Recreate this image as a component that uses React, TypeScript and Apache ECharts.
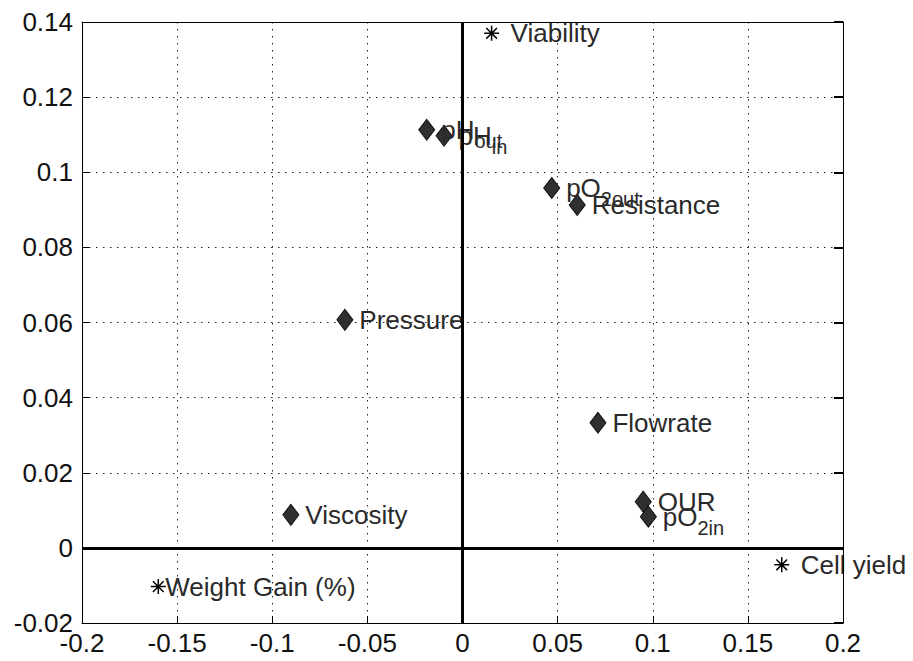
import React, { useEffect, useRef } from "react";
import * as echarts from "echarts";

// Loadings of the process variables (diamonds)
const varNames = [
  "pH_out",
  "pH_in",
  "pO2_out",
  "Resistance",
  "Pressure",
  "Flowrate",
  "OUR",
  "pO2_in",
  "Viscosity",
];
const varX = [-0.0188, -0.0097, 0.0469, 0.0603, -0.0618, 0.0712, 0.095, 0.0977, -0.0902];
const varY = [0.1113, 0.1097, 0.0958, 0.0913, 0.0607, 0.0333, 0.0123, 0.0083, 0.0088];

// Loadings of the response variables (asterisks)
const respNames = ["Viability", "Cell yield", "Weight Gain (%)"];
const respX = [0.0153, 0.1678, -0.1599];
const respY = [0.137, -0.0045, -0.0103];

// Axis ranges and tick spacing
const xRange = [-0.2, 0.2];
const xStep = 0.05;
const yRange = [-0.02, 0.14];
const yStep = 0.02;

const FONT = "'Liberation Sans', Arial, Helvetica, sans-serif";
const TEXT = "#2a2a2a";

// Names written with a subscript part, e.g. pO2_out -> pO + "2out"
function richName(name: string): string {
  const i = name.indexOf("_");
  if (i < 0) return `{a|${name}}`;
  const base = name.slice(0, i);
  const sub = name.slice(i + 1);
  if (base === "pO2") return `{a|pO}{s|2${sub}}`;
  return `{a|${base}}{s|${sub}}`;
}

const richStyles = {
  a: { fontSize: 26, fontFamily: FONT, color: TEXT, lineHeight: 30 },
  s: {
    fontSize: 20,
    fontFamily: FONT,
    color: TEXT,
    lineHeight: 20,
    padding: [16, 0, 0, 0],
    verticalAlign: "top",
  },
};

const asteriskPath = "path://M0,7L14,7M7,0L7,14M2,2L12,12M2,12L12,2";

export default function App() {
  const ref = useRef<HTMLDivElement>(null);

  useEffect(() => {
    if (!ref.current) return;
    const chart = echarts.init(ref.current, undefined, { renderer: "svg" });

    const varData = varNames.map((n, i) => ({ name: n, value: [varX[i], varY[i]] }));
    const respData = respNames.map((n, i) => {
      const item: any = { name: n, value: [respX[i], respY[i]] };
      if (n === "Weight Gain (%)") item.label = { distance: -3 };
      return item;
    });

    const tickLabel = { fontSize: 26, fontFamily: FONT, color: "#111" };
    const dotted = { show: true, lineStyle: { color: "#222", width: 1, type: [1.5, 5.5] } };

    chart.setOption({
      animation: false,
      backgroundColor: "#fff",
      grid: { left: 82, right: 70, top: 22, bottom: 38, containLabel: false },
      xAxis: [
        {
          type: "value",
          position: "bottom",
          min: xRange[0],
          max: xRange[1],
          interval: xStep,
          axisLine: { show: true, onZero: false, lineStyle: { color: "#000", width: 1 } },
          axisTick: { show: true, inside: true, length: 7, lineStyle: { color: "#000" } },
          axisLabel: { ...tickLabel, margin: 7 },
          splitLine: dotted,
          z: 5,
        },
        {
          type: "value",
          position: "top",
          min: xRange[0],
          max: xRange[1],
          interval: xStep,
          axisLine: { show: true, onZero: false, lineStyle: { color: "#000", width: 1 } },
          axisTick: { show: false },
          axisLabel: { show: false },
          splitLine: { show: false },
          z: 5,
        },
      ],
      yAxis: [
        {
          type: "value",
          position: "left",
          min: yRange[0],
          max: yRange[1],
          interval: yStep,
          axisLine: { show: true, onZero: false, lineStyle: { color: "#000", width: 1 } },
          axisTick: { show: true, inside: true, length: 7, lineStyle: { color: "#000" } },
          axisLabel: { ...tickLabel, margin: 9 },
          splitLine: dotted,
          z: 5,
        },
        {
          type: "value",
          position: "right",
          min: yRange[0],
          max: yRange[1],
          interval: yStep,
          axisLine: { show: true, onZero: false, lineStyle: { color: "#000", width: 1 } },
          axisTick: { show: true, inside: true, length: 9, lineStyle: { color: "#000", width: 2 } },
          axisLabel: { show: false },
          splitLine: { show: false },
          z: 5,
        },
      ],
      series: [
        {
          type: "scatter",
          name: "variables",
          data: varData,
          symbol: "diamond",
          symbolSize: [16, 21],
          itemStyle: { color: "#303030", borderColor: "#111", borderWidth: 1, opacity: 1 },
          label: {
            show: true,
            position: "right",
            distance: 6,
            formatter: (p: any) => richName(p.name),
            rich: richStyles,
          },
          z: 2,
        },
        {
          type: "scatter",
          name: "responses",
          data: respData,
          symbol: asteriskPath,
          symbolSize: 15,
          itemStyle: { color: "none", borderColor: "#000", borderWidth: 1.5, opacity: 1 },
          label: {
            show: true,
            position: "right",
            distance: 9,
            formatter: (p: any) => `{a|${p.name}}`,
            rich: richStyles,
          },
          z: 2,
        },
        {
          // thick lines through the origin, drawn above the labels
          type: "scatter",
          name: "origin",
          data: [],
          silent: true,
          z: 4,
          markLine: {
            silent: true,
            symbol: "none",
            label: { show: false },
            lineStyle: { color: "#000", width: 3, type: "solid" },
            data: [{ xAxis: 0 }, { yAxis: 0 }],
          },
        },
      ],
    });

    return () => chart.dispose();
  }, []);

  return (
    <div
      ref={ref}
      style={{ position: "fixed", left: 0, top: 0, width: 913, height: 661 }}
    />
  );
}
